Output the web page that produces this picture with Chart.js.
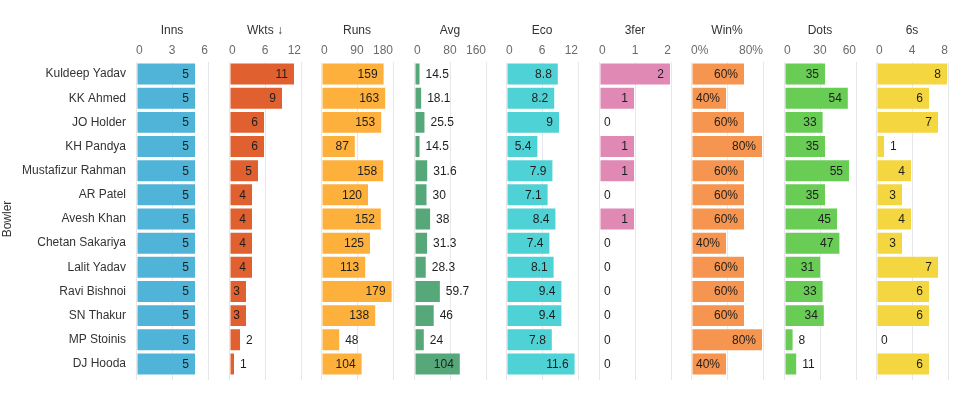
<!DOCTYPE html>
<html><head><meta charset="utf-8">
<script src="https://cdn.jsdelivr.net/npm/chart.js@4"></script>
<style>
html,body{margin:0;padding:0;background:#fff;}
body{width:960px;height:399px;overflow:hidden;position:relative;}
canvas{position:absolute;top:0;}
</style></head><body>
<script>
// ---- data ----
const bowlers = ["Kuldeep Yadav","KK Ahmed","JO Holder","KH Pandya","Mustafizur Rahman","AR Patel","Avesh Khan","Chetan Sakariya","Lalit Yadav","Ravi Bishnoi","SN Thakur","MP Stoinis","DJ Hooda"];
const inns   = [5,5,5,5,5,5,5,5,5,5,5,5,5];
const wkts   = [11,9,6,6,5,4,4,4,4,3,3,2,1];
const runs   = [159,163,153,87,158,120,152,125,113,179,138,48,104];
const avg    = [14.5,18.1,25.5,14.5,31.6,30,38,31.3,28.3,59.7,46,24,104];
const eco    = [8.8,8.2,9,5.4,7.9,7.1,8.4,7.4,8.1,9.4,9.4,7.8,11.6];
const threeFer = [2,1,0,1,1,0,1,0,0,0,0,0,0];
const winPct = [60,40,60,80,60,60,60,40,60,60,60,80,40];
const dots   = [35,54,33,35,55,35,45,47,31,33,34,8,11];
const sixes  = [8,6,7,1,4,3,4,3,7,6,6,0,6];

const measureTitles = ["Inns","Wkts \u2193","Runs","Avg","Eco","3fer","Win%","Dots","6s"];
const axisMax  = [6,12,180,160,12,2,80,60,8];
const axisStep = [3,6,90,80,6,1,40,30,4];

const FONT = '"Liberation Sans", Arial, sans-serif';
Chart.defaults.font.family = FONT;
Chart.defaults.font.size = 12;

const panels = [
  {title:measureTitles[0], data:inns,     max:axisMax[0], step:axisStep[0], color:'#4fb4d8'},
  {title:measureTitles[1], data:wkts,     max:axisMax[1], step:axisStep[1], color:'#e0612f'},
  {title:measureTitles[2], data:runs,     max:axisMax[2], step:axisStep[2], color:'#fdb03c'},
  {title:measureTitles[3], data:avg,      max:axisMax[3], step:axisStep[3], color:'#56a87b'},
  {title:measureTitles[4], data:eco,      max:axisMax[4], step:axisStep[4], color:'#4fd2d5'},
  {title:measureTitles[5], data:threeFer, max:axisMax[5], step:axisStep[5], color:'#e089b5'},
  {title:measureTitles[6], data:winPct,   max:axisMax[6], step:axisStep[6], color:'#f5954f', pct:true},
  {title:measureTitles[7], data:dots,     max:axisMax[7], step:axisStep[7], color:'#69cc55'},
  {title:measureTitles[8], data:sixes,    max:axisMax[8], step:axisStep[8], color:'#f4d640'}
];

function fmt(p, v){ return p.pct ? (v + '%') : String(v); }

function makeLabelPlugin(p){
  return {
    id:'valueLabels',
    afterDatasetsDraw(chart){
      const ctx = chart.ctx;
      const meta = chart.getDatasetMeta(0);
      const xs = chart.scales.x;
      const x0 = xs.getPixelForValue(0);
      ctx.save();
      ctx.font = '12px ' + FONT;
      ctx.fillStyle = '#1e1e1e';
      ctx.textBaseline = 'middle';
      meta.data.forEach((bar, j) => {
        const txt = fmt(p, p.data[j]);
        const w = ctx.measureText(txt).width;
        const bw = bar.x - x0;
        let tx;
        if (w + 9 <= bw) { ctx.textAlign = 'right'; tx = bar.x - 7; }
        else { ctx.textAlign = 'left'; tx = bar.x + 5; }
        ctx.fillText(txt, tx, bar.y + 0.5);
      });
      ctx.restore();
    }
  };
}

panels.forEach((p, i) => {
  const start = Math.round(136 + i * 92.5);
  const first = i === 0;
  const left = first ? 0 : start - 10;
  const width = first ? start + 72 + 10 : 92;
  const cv = document.createElement('canvas');
  cv.width = width; cv.height = 399;
  cv.style.left = left + 'px';
  document.body.appendChild(cv);

  const yScale = first ? {
    type:'category',
    display:true,
    grid:{display:false, drawTicks:false},
    border:{display:false},
    ticks:{padding:10, color:'#333', font:{size:12}, autoSkip:false},
    title:{display:true, text:'Bowler', color:'#333', font:{size:12}, padding:{top:0,bottom:0}},
    afterFit(s){ s.width = 136; }
  } : { type:'category', display:false };

  new Chart(cv, {
    type:'bar',
    data:{
      labels:bowlers,
      datasets:[{
        data:p.data,
        backgroundColor:p.color,
        borderColor:'rgba(255,255,255,0.3)',
        borderWidth:1,
        borderSkipped:false,
        barPercentage:1,
        categoryPercentage:0.95
      }]
    },
    options:{
      indexAxis:'y',
      responsive:false,
      animation:false,
      layout:{padding:{top:20, bottom:19, left:first ? 0 : 10, right:10}},
      plugins:{legend:{display:false}, tooltip:{enabled:false}},
      scales:{
        x:{
          position:'top', min:0, max:p.max,
          ticks:{
            stepSize:p.step, align:'inner', maxRotation:0, autoSkip:false, padding:4,
            color:'#6b6b6b', font:{size:12},
            callback:(v)=> p.pct ? (v === 0 || v === p.max ? v + '%' : '') : v
          },
          grid:{color:'#e4e7eb', drawTicks:false, lineWidth:1},
          border:{display:false},
          title:{display:true, text:p.title, color:'#333', font:{size:12}, padding:{top:3, bottom:0}},
          afterFit(s){ s.height = 42; }
        },
        x2:{
          axis:'x', position:'bottom', min:0, max:p.max,
          ticks:{display:false, stepSize:p.step},
          grid:{drawOnChartArea:false, drawTicks:true, tickLength:4, color:'#e4e7eb'},
          border:{display:false}
        },
        y:yScale
      }
    },
    plugins:[makeLabelPlugin(p)]
  });
});
</script>
</body></html>
